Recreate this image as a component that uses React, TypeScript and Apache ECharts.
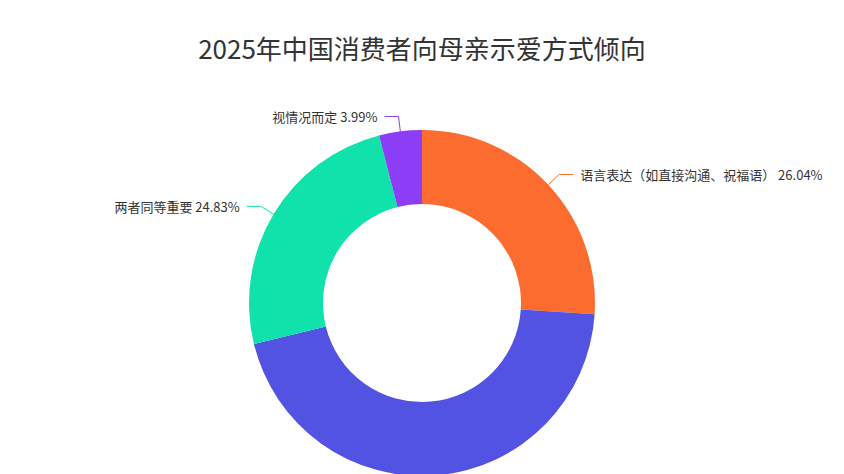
import { useEffect, useRef } from 'react';
import * as echarts from 'echarts';

const categories = [
  '语言表达（如直接沟通、祝福语）',
  '行动表达（如陪伴、送礼物）',
  '两者同等重要',
  '视情况而定',
];
const shares = [26.04, 45.14, 24.83, 3.99];
const sliceColors = ['#FC6C2E', '#5252E3', '#0FE2AA', '#8C3DF6'];
// the bottom slice's label falls below the picture in the reference
const labelShown = [true, false, true, true];

export default function App() {
  const chartRef = useRef<HTMLDivElement>(null);

  useEffect(() => {
    document.body.style.margin = '0';
    if (!chartRef.current) return;
    const chart = echarts.init(chartRef.current, undefined, { renderer: 'svg' });

    const option: echarts.EChartsOption = {
      animation: false,
      backgroundColor: '#fff',
      title: {
        text: '2025年中国消费者向母亲示爱方式倾向',
        left: 'center',
        top: 29,
        textStyle: {
          fontFamily: 'Noto Sans CJK SC',
          fontSize: 26,
          fontWeight: 'normal',
          color: '#333',
        },
      },
      series: [
        {
          type: 'pie',
          center: [422, 303],
          radius: [99, 173],
          startAngle: 90,
          clockwise: true,
          data: categories.map((name, i) => ({
            name,
            value: shares[i],
            itemStyle: { color: sliceColors[i] },
            label: { show: labelShown[i] },
            labelLine: { show: labelShown[i] },
          })),
          label: {
            show: true,
            formatter: '{b} {c}%',
            fontFamily: 'Noto Sans CJK SC',
            fontSize: 13,
            color: '#333',
            distanceToLabelLine: 7,
          },
          labelLine: {
            show: true,
            length: 15,
            length2: 14,
          },
        },
      ],
    };

    chart.setOption(option);
    return () => chart.dispose();
  }, []);

  return <div ref={chartRef} style={{ width: 844, height: 474 }} />;
}
